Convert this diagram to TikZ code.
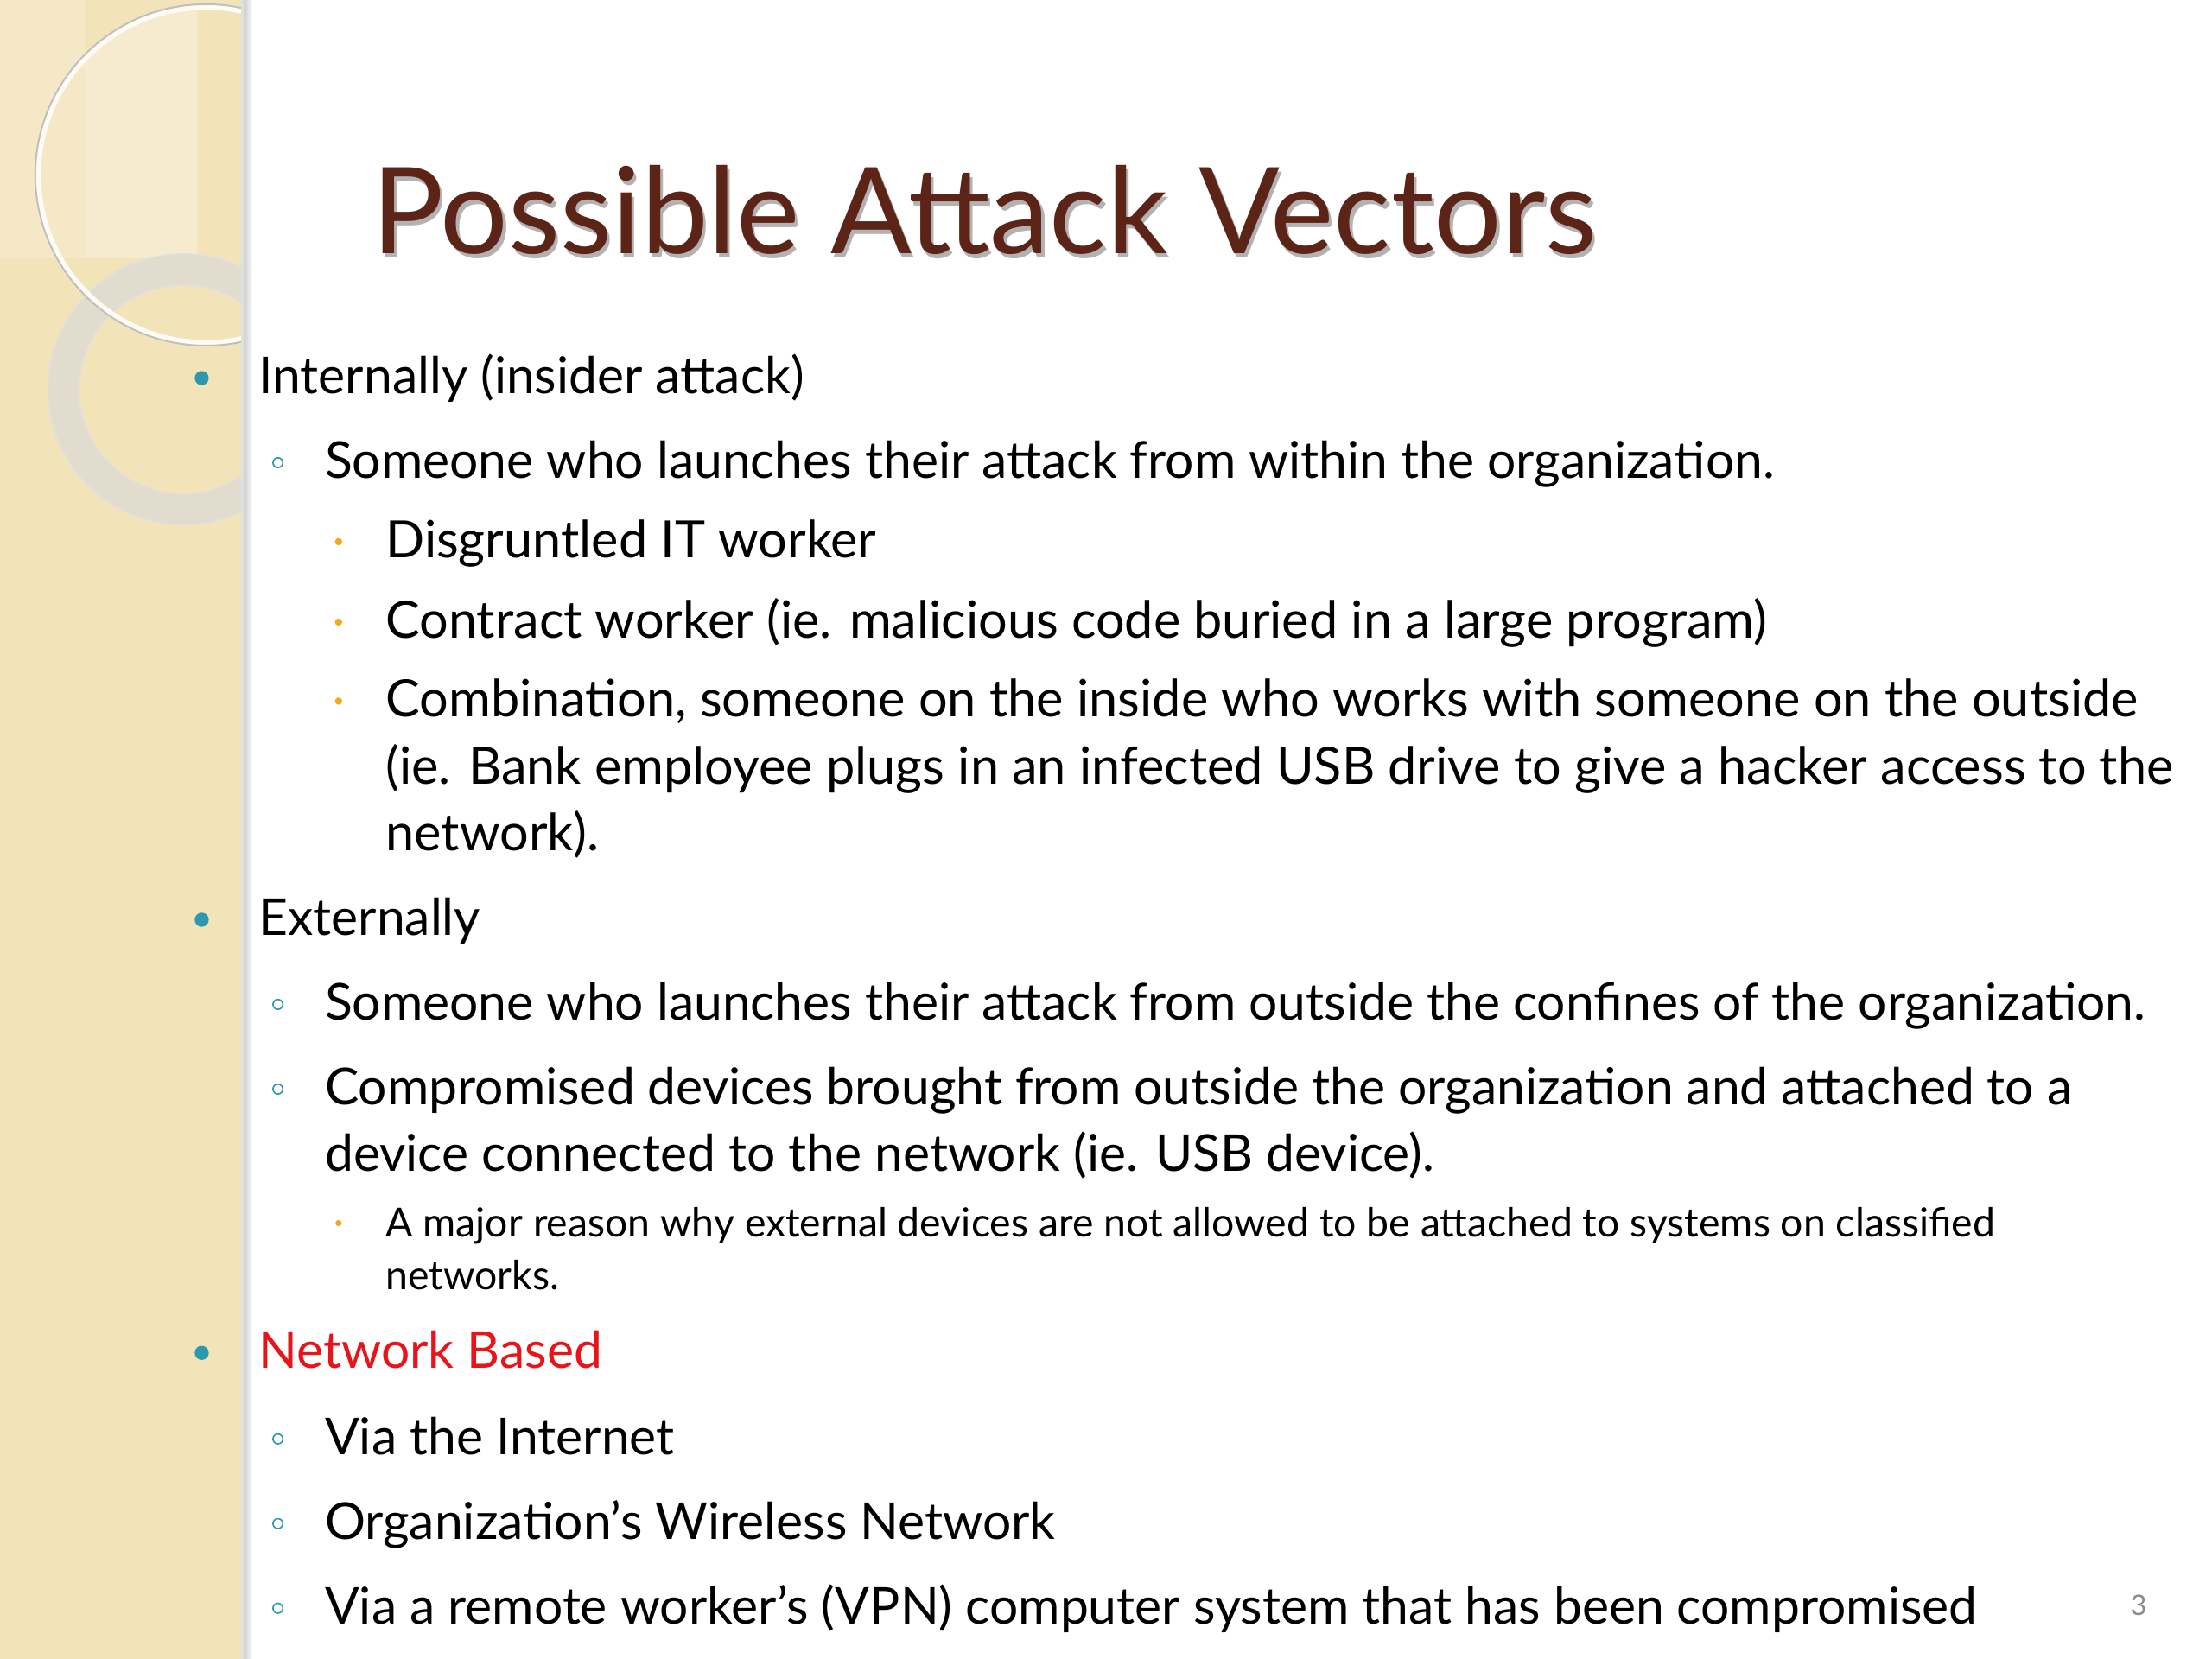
\documentclass[tikz,border=0pt]{standalone}
\usepackage{fontspec}
\setmainfont{Lato}
\definecolor{panel}{HTML}{F3E3B8}
\definecolor{paneltop}{HTML}{F6EBCF}
\definecolor{ringc}{HTML}{E2DCCF}
\definecolor{titlec}{HTML}{5C2416}
\definecolor{tealc}{HTML}{2E98AE}
\definecolor{orangec}{HTML}{F2A91C}
\definecolor{redc}{HTML}{E8141A}
\tikzset{
 lone/.style={anchor=mid west,inner sep=0pt,font=\fontsize{18}{20}\selectfont},
 ltwo/.style={anchor=mid west,inner sep=0pt,font=\fontsize{18}{20}\selectfont},
 lthree/.style={anchor=mid west,inner sep=0pt,font=\fontsize{18.2}{20}\selectfont},
 lsmall/.style={anchor=mid west,inner sep=0pt,font=\fontsize{14.2}{16}\selectfont},
 bone/.style={circle,fill=tealc,inner sep=0pt,minimum size=5pt},
 btwo/.style={circle,draw=tealc,line width=0.5pt,inner sep=0pt,minimum size=3.5pt},
 bthree/.style={circle,fill=orangec,inner sep=0pt,minimum size=2.6pt},
}
\begin{document}
\begin{tikzpicture}[x=0.5pt,y=-0.5pt]
\useasboundingbox (0,0) rectangle (1568,1176);
\fill[white] (0,0) rectangle (1568,1176);
% left panel
\begin{scope}
\clip (0,0) rectangle (172,1176);
\fill[panel] (0,0) rectangle (172,1176);
\begin{scope}
\clip (0,0) rectangle (140,183);
\fill[paneltop] (146,124) circle (119);
\fill[paneltop!60!panel] (0,0) rectangle (60,183);
\end{scope}
\draw[ringc,line width=11pt] (130,276) circle (85);
\draw[black!12,line width=0.5pt] (130,276) circle (96);
\draw[black!12,line width=0.5pt] (130,276) circle (74);
\draw[white!85!panel,line width=2pt] (146,124) circle (119);
\draw[black!25,line width=0.6pt] (146,124) circle (121);
\end{scope}
\foreach \i in {0,...,7}{\fill[black,opacity=0.03] (172,0) rectangle (172+\i,1176);}
\fill[black!12] (171,0) rectangle (173,1176);
% title
\node[anchor=base west,inner sep=0pt,text=black!30,font=\fontsize{42.5}{46}\selectfont] (ts) at (265,183) {Possible Attack Vectors};
\node[anchor=base west,inner sep=0pt,text=titlec,font=\fontsize{42.5}{46}\selectfont] (title) at (263,180) {Possible Attack Vectors};
% body
\node[bone] (b1) at (143,268) {};
\node[lone] (t1) at (183,274) {Internally (insider attack)};
\node[btwo] (b2) at (197,328) {};
\node[ltwo] (t2) at (230,334) {Someone who launches their attack from within the organization.};
\node[bthree] (b3) at (240,384) {};
\node[lthree] (t3) at (273,390) {Disgruntled IT worker};
\node[bthree] (b4) at (240,441) {};
\node[lthree] (t4) at (273,447) {Contract worker (ie. malicious code buried in a large program)};
\node[bthree] (b5) at (240,497) {};
\node[lthree] (t5) at (273,503) {Combination, someone on the inside who works with someone on the outside};
\node[lthree] (t5b) at (273,551) {(ie. Bank employee plugs in an infected USB drive to give a hacker access to the};
\node[lthree] (t5c) at (273,598) {network).};
\node[bone] (b6) at (143,652) {};
\node[lone] (t6) at (183,658) {Externally};
\node[btwo] (b7) at (197,712) {};
\node[ltwo] (t7) at (230,718) {Someone who launches their attack from outside the confines of the organization.};
\node[btwo] (b8) at (197,772) {};
\node[ltwo] (t8) at (230,778) {Compromised devices brought from outside the organization and attached to a};
\node[ltwo] (t8b) at (230,825) {device connected to the network (ie. USB device).};
\node[bthree,minimum size=2.2pt] (b9) at (240,867) {};
\node[lsmall] (t9) at (273,872) {A major reason why external devices are not allowed to be attached to systems on classified};
\node[lsmall] (t9b) at (273,909) {networks.};
\node[bone] (b10) at (143,959) {};
\node[lone,text=redc] (t10) at (183,965) {Network Based};
\node[btwo] (b11) at (197,1020) {};
\node[ltwo] (t11) at (230,1026) {Via the Internet};
\node[btwo] (b12) at (197,1080) {};
\node[ltwo] (t12) at (230,1086) {Organization’s Wireless Network};
\node[btwo] (b13) at (197,1140) {};
\node[ltwo] (t13) at (230,1146) {Via a remote worker’s (VPN) computer system that has been compromised};
\node[anchor=mid,inner sep=0pt,text=black!45,font=\fontsize{10}{11}\selectfont] (pg) at (1516,1140) {3};
\end{tikzpicture}
\end{document}
